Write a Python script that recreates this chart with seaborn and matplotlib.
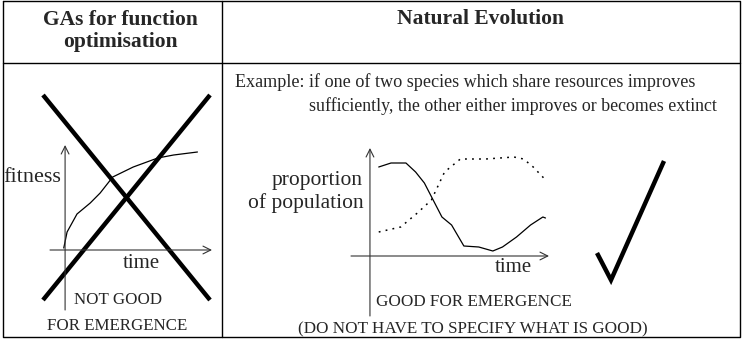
import matplotlib
matplotlib.use("Agg")
import matplotlib.pyplot as plt
import seaborn as sns

# --- data -------------------------------------------------------------
# left panel: fitness curve of a GA (time 0..10, fitness 0..1)
ga_time = [-0.1, 0.15, 0.9, 1.9, 2.65, 3.6, 5.15, 7.0, 8.2, 10.0]
ga_fitness = [0.02, 0.18, 0.36, 0.47, 0.57, 0.73, 0.83, 0.92, 0.95, 0.98]

# right panel: two species sharing resources
sp_a_time = [0.5, 1.2, 2.05, 2.6, 3.1, 3.6, 4.1, 4.65, 5.05, 5.35, 6.2, 7.0,
             7.55, 8.35, 9.15, 9.85, 10.0]
sp_a_prop = [0.89, 0.93, 0.93, 0.84, 0.73, 0.56, 0.39, 0.31, 0.19, 0.10, 0.09,
             0.05, 0.09, 0.19, 0.31, 0.39, 0.38]
sp_b_time = [0.5, 1.75, 2.7, 3.5, 4.25, 5.15, 6.6, 8.2, 8.75, 9.3, 9.9]
sp_b_prop = [0.24, 0.29, 0.43, 0.56, 0.84, 0.97, 0.97, 0.99, 0.97, 0.89, 0.78]

headers = ["GAs for function\noptimisation", "Natural Evolution"]
example_text = ["Example: if one of two species which share resources improves",
                "sufficiently, the other either improves or becomes extinct"]
verdicts = [["NOT GOOD", "FOR EMERGENCE"],
            ["GOOD FOR EMERGENCE", "(DO NOT HAVE TO SPECIFY WHAT IS GOOD)"]]

# cross and tick drawn over the panels (page pixels)
cross_x = [[43, 210], [43, 210]]
cross_y = [[95, 300], [300, 95]]
tick_x = [597, 611, 664]
tick_y = [253, 280, 161]

W, H = 748, 340
sns.set_theme(style="white")
plt.rcParams["font.family"] = ["Liberation Serif", "DejaVu Serif"]

fig = plt.figure(figsize=(W / 100, H / 100), dpi=100)
page = fig.add_axes([0, 0, 1, 1])
page.set_xlim(0, W)
page.set_ylim(H, 0)
page.axis("off")

# table frame
lw_t = 1.0
page.plot([3, 740, 740, 3, 3], [1, 1, 337, 337, 1], color="black", lw=lw_t)
page.plot([3, 740], [63, 63], color="black", lw=lw_t)
page.plot([222, 222], [1, 337], color="black", lw=lw_t)

page.text(120, 31, headers[0], ha="center", va="center", fontsize=15.5,
          fontweight="bold", linespacing=1.15)
page.text(481, 19, headers[1], ha="center", va="center", fontsize=15.5,
          fontweight="bold")

page.text(235, 82, example_text[0], ha="left", va="center", fontsize=13.1)
page.text(309, 106, example_text[1], ha="left", va="center", fontsize=12.9)

page.text(3, 178, "fitness", ha="left", va="center", fontsize=16)
page.text(141, 264, "time", ha="center", va="center", fontsize=15)
page.text(118, 300, verdicts[0][0], ha="center", va="center", fontsize=12.2)
page.text(117, 326, verdicts[0][1], ha="center", va="center", fontsize=12.2)

page.text(363, 181, "proportion", ha="right", va="center", fontsize=15.5)
page.text(364, 203, "of population", ha="right", va="center", fontsize=15.5)
page.text(513, 268, "time", ha="center", va="center", fontsize=15)
page.text(474, 302, verdicts[1][0], ha="center", va="center", fontsize=12.3)
page.text(473, 329, verdicts[1][1], ha="center", va="center", fontsize=12.3)


def inset(x0, x1, y0, y1):
    # axes placed by page pixels (y measured downward)
    return fig.add_axes([x0 / W, (H - y1) / H, (x1 - x0) / W, (y1 - y0) / H])


def draw_axes(ax, xlim, ylim):
    ax.set_xlim(*xlim)
    ax.set_ylim(*ylim)
    ax.axis("off")
    ax.patch.set_alpha(0)
    arrow = dict(arrowstyle="->", color="#333333", lw=0.8,
                 mutation_scale=14, shrinkA=0, shrinkB=0)
    ax.annotate("", xy=(xlim[1], 0), xytext=(xlim[0], 0), arrowprops=arrow,
                annotation_clip=False)
    ax.annotate("", xy=(0, ylim[1]), xytext=(0, ylim[0]), arrowprops=arrow,
                annotation_clip=False)


# left mini chart
ax_l = inset(50, 212, 145, 310)
draw_axes(ax_l, (-1.14, 11.1), (-0.6, 1.05))
sns.lineplot(x=ga_time, y=ga_fitness, ax=ax_l, sort=False, estimator=None,
             color="black", lw=0.9)

# right mini chart
ax_r = inset(351, 549, 148, 316)
draw_axes(ax_r, (-1.08, 10.2), (-0.6, 1.08))
sns.lineplot(x=sp_a_time, y=sp_a_prop, ax=ax_r, sort=False, estimator=None,
             color="black", lw=0.9)
sns.lineplot(x=sp_b_time, y=sp_b_prop, ax=ax_r, sort=False, estimator=None,
             color="black", lw=1.1, linestyle=(0, (1.2, 3.4)))

# big cross and tick
for xs, ys in zip(cross_x, cross_y):
    page.plot(xs, ys, color="black", lw=3.2, solid_capstyle="butt")
page.plot(tick_x, tick_y, color="black", lw=3.2, solid_joinstyle="miter",
          solid_capstyle="butt")

fig.savefig("out.png", dpi=100)
